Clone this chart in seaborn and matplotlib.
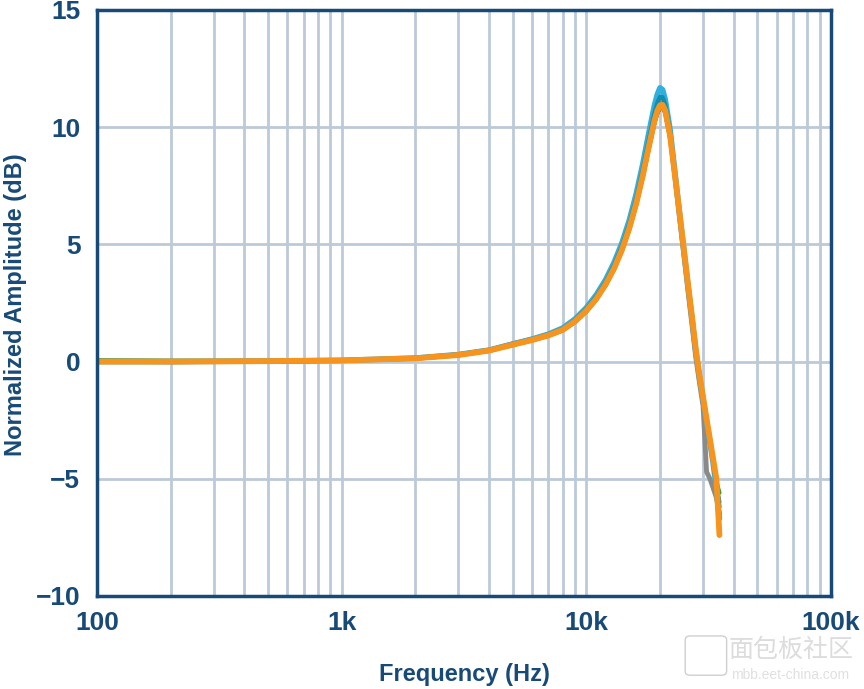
import matplotlib
matplotlib.use('Agg')
import matplotlib.pyplot as plt
import seaborn as sns
import pandas as pd
from matplotlib.ticker import FixedLocator, LogLocator, NullFormatter
from matplotlib.patches import FancyBboxPatch

# Частоты (Гц), общие для всех кривых
freqs = [100, 200, 500, 1000, 2000, 3000, 4000, 5000, 6000, 7000, 8000, 9000,
         10000, 11000, 12000, 13000, 14000, 15000, 16000, 17000, 18000, 19000,
         19500, 20000, 20500, 21000, 22000, 23000, 24000, 25000, 26000, 27000,
         28000, 29000, 30000, 31000, 32000, 33000, 34000, 35000]

# Нормированная амплитуда (дБ) для каждой кривой
amp_darkred = [0.0, -0.02, 0.0, 0.04, 0.15, 0.31, 0.5, 0.77, 0.97, 1.17, 1.4, 1.76,
               2.2, 2.71, 3.31, 3.99, 4.78, 5.69, 6.72, 7.88, 9.1, 10.2,
               10.6, 10.82, 10.85, 10.62, 9.55, 7.95, 6.35, 4.8, 3.3, 1.9,
               0.5, -0.6, -1.55, -2.5, -3.4, -4.3, -5.2, -6.2]
amp_green = [0.06, 0.04, 0.03, 0.06, 0.16, 0.3, 0.46, 0.7, 0.9, 1.1, 1.33, 1.69,
             2.13, 2.65, 3.26, 3.94, 4.74, 5.65, 6.7, 7.86, 9.1, 10.2,
             10.6, 10.84, 10.88, 10.66, 9.6, 8.0, 6.4, 4.87, 3.38, 1.98,
             0.58, -0.55, -1.5, -2.42, -3.3, -4.15, -5.1, -5.6]
amp_gray = [0.0, 0.0, 0.02, 0.05, 0.14, 0.28, 0.47, 0.73, 0.93, 1.13, 1.37, 1.74,
            2.2, 2.73, 3.35, 4.05, 4.86, 5.8, 6.86, 8.05, 9.3, 10.45,
            10.88, 11.12, 11.1, 10.8, 9.6, 7.9, 6.2, 4.6, 3.05, 1.6,
            0.2, -0.9, -1.9, -4.7, -5.0, -5.4, -5.8, -6.5]
amp_blue = [0.0, 0.0, 0.02, 0.05, 0.15, 0.3, 0.49, 0.75, 0.96, 1.17, 1.43, 1.82,
            2.3, 2.86, 3.5, 4.24, 5.08, 6.05, 7.17, 8.42, 9.75, 10.95,
            11.4, 11.68, 11.6, 11.2, 9.9, 8.1, 6.4, 4.8, 3.3, 1.9,
            0.45, -0.65, -1.6, -2.55, -3.45, -4.35, -5.4, -6.7]
amp_teal = [0.0, 0.0, 0.02, 0.05, 0.14, 0.29, 0.48, 0.74, 0.94, 1.15, 1.39, 1.77,
            2.24, 2.78, 3.4, 4.12, 4.94, 5.88, 6.96, 8.17, 9.46, 10.62,
            11.05, 11.3, 11.28, 10.98, 9.8, 8.05, 6.4, 4.82, 3.3, 1.9,
            0.5, -0.62, -1.56, -2.5, -3.4, -4.3, -5.3, -6.0]
amp_orange = [0.0, 0.0, 0.02, 0.05, 0.14, 0.28, 0.47, 0.72, 0.92, 1.12, 1.35, 1.72,
              2.17, 2.69, 3.3, 3.99, 4.79, 5.71, 6.76, 7.93, 9.17, 10.29,
              10.7, 10.93, 10.95, 10.71, 9.63, 8.0, 6.4, 4.85, 3.35, 1.95,
              0.55, -0.58, -1.52, -2.44, -3.31, -4.17, -5.0, -7.4]

series = [
    (amp_darkred, '#7a1f3d', 3.0),
    (amp_green, '#3a9b3a', 3.0),
    (amp_gray, '#8a8a8a', 3.5),
    (amp_blue, '#2fb0de', 4.0),
    (amp_teal, '#0d8fb0', 3.0),
    (amp_orange, '#f7941d', 4.2),
]

y_ticks = [-10, -5, 0, 5, 10, 15]
y_labels = ['−10', '−5', '0', '5', '10', '15']
x_ticks = [100, 1000, 10000, 100000]
x_labels = ['100', '1k', '10k', '100k']

navy = '#184a78'
grid_col = '#bccad8'

sns.set_style('white')
plt.rcParams['font.family'] = ['Liberation Sans', 'DejaVu Sans']

fig = plt.figure(figsize=(8.64, 6.89), dpi=100)
ax = fig.add_axes([0.1123, 0.135, 0.8495, 0.8505])

for amp, col, lw in series:
    df = pd.DataFrame({'f': freqs, 'a': amp})
    sns.lineplot(data=df, x='f', y='a', color=col, linewidth=lw, ax=ax,
                 sort=False, estimator=None, solid_capstyle='round',
                 solid_joinstyle='round')

ax.set_xscale('log')
ax.set_xlim(100, 100000)
ax.set_ylim(-10, 15)

ax.xaxis.set_major_locator(FixedLocator(x_ticks))
ax.xaxis.set_minor_locator(LogLocator(base=10, subs=range(2, 10)))
ax.xaxis.set_minor_formatter(NullFormatter())
ax.set_xticks(x_ticks)
ax.set_xticklabels(x_labels)
ax.set_yticks(y_ticks)
ax.set_yticklabels(y_labels)

ax.grid(True, which='major', axis='both', color=grid_col, linewidth=2)
ax.grid(True, which='minor', axis='x', color=grid_col, linewidth=2)
ax.set_axisbelow(True)

ax.tick_params(axis='both', which='both', length=0, labelsize=19, labelcolor=navy)
ax.tick_params(axis='x', pad=11)
ax.tick_params(axis='y', pad=12)
for lbl in ax.get_xticklabels() + ax.get_yticklabels():
    lbl.set_fontweight('bold')

for sp in ax.spines.values():
    sp.set_color(navy)
    sp.set_linewidth(2.5)

ax.set_xlabel('Frequency (Hz)', fontsize=17, fontweight='bold', color=navy)
ax.set_ylabel('Normalized Amplitude (dB)', fontsize=17, fontweight='bold', color=navy)
ax.xaxis.set_label_coords(0.5, -0.115)
ax.yaxis.set_label_coords(-0.096, 0.497)

# водяной знак
logo = FancyBboxPatch((0.795, 0.022), 0.044, 0.053, transform=fig.transFigure,
                      boxstyle='round,pad=0.002,rounding_size=0.006',
                      facecolor='white', edgecolor='#cfcfcf', linewidth=1)
fig.patches.append(logo)
fig.text(0.915, 0.057, '面包板社区', fontsize=18, color='#dcdcdc', ha='center',
         va='center', family=['Noto Sans CJK SC', 'DejaVu Sans'])
fig.text(0.915, 0.02, 'mbb.eet-china.com', fontsize=10, color='#e0e0e0', ha='center',
         va='center')

plt.savefig('out.png', dpi=100)
plt.close()
